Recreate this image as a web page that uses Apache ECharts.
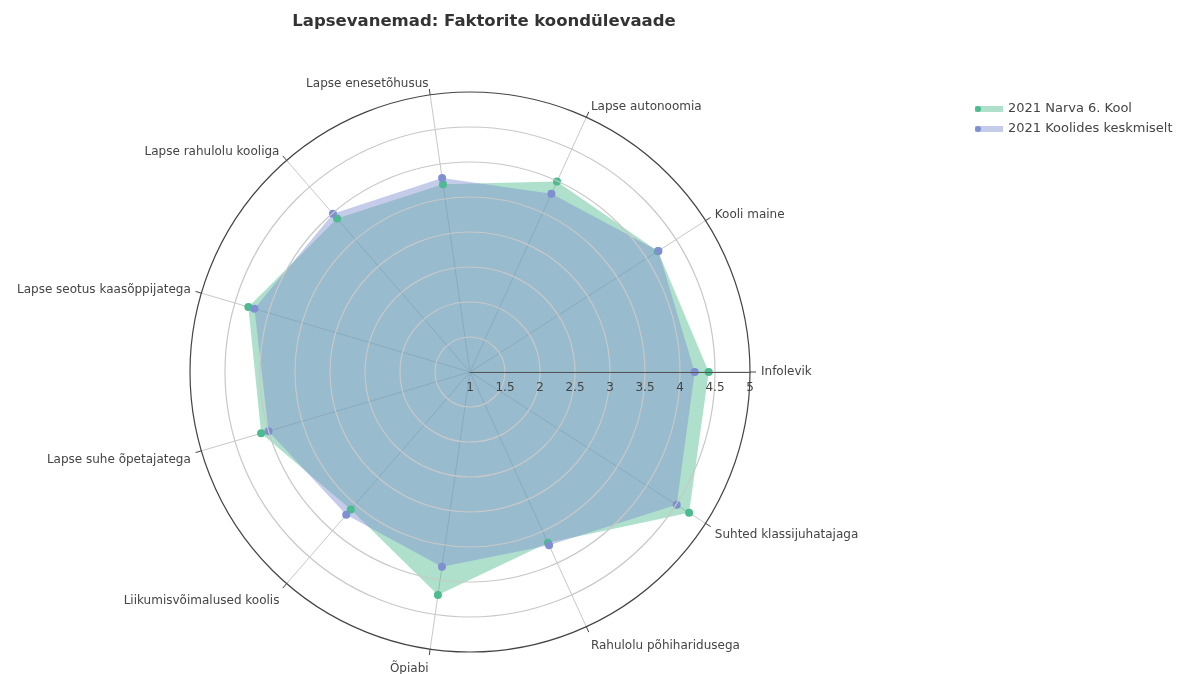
<!DOCTYPE html>
<html><head><meta charset="utf-8">
<script src="https://cdn.jsdelivr.net/npm/echarts@6/dist/echarts.min.js"></script>
<style>html,body{margin:0;padding:0;background:#fff}#c{width:1179px;height:674px}</style>
</head><body><div id="c"></div>
<script>
const categories = ['Infolevik','Kooli maine','Lapse autonoomia','Lapse enesetõhusus','Lapse rahulolu kooliga','Lapse seotus kaasõppijatega','Lapse suhe õpetajatega','Liikumisvõimalused koolis','Õpiabi','Rahulolu põhiharidusega','Suhted klassijuhatajaga'];
const narva = [4.41, 4.19, 3.99, 3.71, 3.90, 4.30, 4.11, 3.60, 4.22, 3.68, 4.72];
const keskmine = [4.21, 4.20, 3.80, 3.80, 3.99, 4.21, 4.00, 3.70, 3.81, 3.72, 4.51];
const seriesNames = ['2021 Narva 6. Kool', '2021 Koolides keskmiselt'];
const radialMin = 1, radialMax = 5, radialStep = 0.5;

const FONT = 'DejaVu Sans';
const greenDark = '#4cbb8f', greenFill = 'rgba(76,187,143,0.45)';
const blueDark = '#7f8fd0', blueFill = 'rgba(127,143,208,0.45)';
const center = [470, 372], radius = 280;
const nCircles = Math.round((radialMax - radialMin) / radialStep) + 1;
const gridColors = Array.from({length: nCircles}, (_, i) => i === nCircles - 1 ? '#444' : '#c8c8c8');

const chart = echarts.init(document.getElementById('c'));
chart.setOption({
  animation: false,
  backgroundColor: '#fff',
  title: {
    text: 'Lapsevanemad: Faktorite koondülevaade',
    left: 479, top: 8, textAlign: 'center',
    textStyle: {fontFamily: FONT, fontWeight: 'bold', fontSize: 16.5, color: '#333'}
  },
  polar: {center: center, radius: radius},
  angleAxis: {
    type: 'category', data: categories, startAngle: 0, clockwise: false, boundaryGap: true,
    axisLine: {show: false},
    axisTick: {show: true, length: 6, alignWithLabel: false, lineStyle: {color: '#444'}},
    axisLabel: {show: false},
    splitLine: {show: true, lineStyle: {color: '#c8c8c8', width: 1}}
  },
  radiusAxis: {
    min: radialMin, max: radialMax, interval: radialStep, z: 3,
    axisLine: {lineStyle: {color: '#555', width: 1}},
    axisTick: {show: false},
    axisLabel: {fontFamily: FONT, fontSize: 12, color: '#444', margin: -10, verticalAlign: 'top'},
    splitLine: {show: true, lineStyle: {color: gridColors, width: 1.2}}
  },
  radar: {
    center: center, radius: radius, startAngle: 0, shape: 'circle', splitNumber: 8,
    indicator: categories.map(n => ({name: n, min: radialMin, max: radialMax})),
    axisName: {
      color: '#444', fontFamily: FONT, fontSize: 12,
      formatter: function (name) {
        const idx = categories.indexOf(name);
        const s = Math.sin(2 * Math.PI * idx / categories.length);
        if (s < -0.7) return '{lo2|' + name + '}';
        if (s < -0.1) return '{lo1|' + name + '}';
        return '{n|' + name + '}';
      },
      rich: {
        n: {color: '#444', fontFamily: FONT, fontSize: 12},
        lo1: {color: '#444', fontFamily: FONT, fontSize: 12, padding: [12, 0, 0, 0]},
        lo2: {color: '#444', fontFamily: FONT, fontSize: 12, padding: [18, 0, 0, 0]}
      }
    },
    nameGap: 11,
    axisLine: {show: false}, splitLine: {show: false}, splitArea: {show: false},
    axisTick: {show: false}, axisLabel: {show: false}
  },
  legend: [
    {
      orient: 'vertical', left: 970, top: 97, selectedMode: false,
      icon: 'rect', itemWidth: 28, itemHeight: 6, itemGap: 6,
      textStyle: {fontFamily: FONT, fontSize: 13, color: '#444', lineHeight: 14},
      data: [
        {name: seriesNames[0], itemStyle: {color: greenFill}},
        {name: seriesNames[1], itemStyle: {color: blueFill}}
      ]
    },
    {
      orient: 'vertical', left: 970, top: 97, selectedMode: false, z: 5,
      icon: 'circle', itemWidth: 28, itemHeight: 6, itemGap: 6,
      textStyle: {fontFamily: FONT, fontSize: 13, color: 'rgba(0,0,0,0)', lineHeight: 14},
      data: [
        {name: seriesNames[0], itemStyle: {color: greenDark}},
        {name: seriesNames[1], itemStyle: {color: blueDark}}
      ]
    }
  ],
  series: [{
    type: 'radar',
    symbol: 'circle', symbolSize: 8,
    data: [
      {name: seriesNames[0], value: narva,
       itemStyle: {color: greenDark}, lineStyle: {width: 0, opacity: 0},
       areaStyle: {color: greenFill, opacity: 1}},
      {name: seriesNames[1], value: keskmine,
       itemStyle: {color: blueDark}, lineStyle: {width: 0, opacity: 0},
       areaStyle: {color: blueFill, opacity: 1}}
    ]
  }]
});
</script></body></html>
